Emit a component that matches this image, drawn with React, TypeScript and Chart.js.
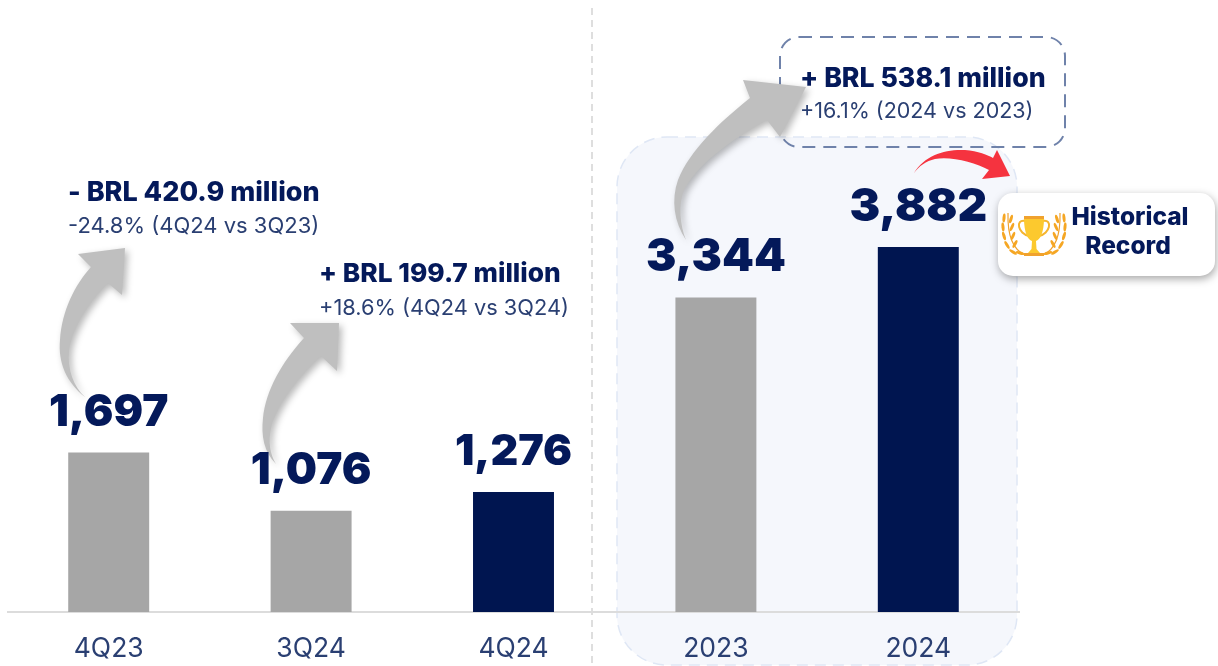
import React, { useEffect, useRef } from "react";
import { Chart, registerables } from "chart.js";

Chart.register(...registerables);

const categories = ["4Q23", "3Q24", "4Q24", "2023", "2024"];
const revenueValues = [1697, 1076, 1276, 3344, 3882];
const valueLabels = ["1,697", "1,076", "1,276", "3,344", "3,882"];
const barColors = ["#a6a6a6", "#a6a6a6", "#001550", "#a6a6a6", "#001550"];
const headlineTexts = ["- BRL 420.9 million", "+ BRL 199.7 million", "+ BRL 538.1 million"];
const detailTexts = ["-24.8% (4Q24 vs 3Q23)", "+18.6% (4Q24 vs 3Q24)", "+16.1% (2024 vs 2023)"];
const badgeLines = ["Historical", "Record"];

const NAVY = "#04195a";
const FONT = "Inter, 'Noto Sans', sans-serif";

function roundRect(ctx: CanvasRenderingContext2D, x: number, y: number, w: number, h: number, r: number) {
  ctx.beginPath();
  ctx.roundRect(x, y, w, h, r);
}

function curvedArrow(ctx: CanvasRenderingContext2D, build: (c: CanvasRenderingContext2D) => void, fill: string, shadow = true) {
  ctx.save();
  if (shadow) {
    ctx.shadowColor = "rgba(0,0,0,0.28)";
    ctx.shadowBlur = 7;
    ctx.shadowOffsetX = 3;
    ctx.shadowOffsetY = 3;
  }
  ctx.fillStyle = fill;
  ctx.beginPath();
  build(ctx);
  ctx.closePath();
  ctx.fill();
  ctx.restore();
}

function trophy(ctx: CanvasRenderingContext2D, cx: number, cy: number) {
  ctx.save();
  ctx.translate(cx, cy);
  // laurels
  for (const side of [-1, 1]) {
    ctx.strokeStyle = "#f0a22e";
    ctx.lineWidth = 1.2;
    ctx.beginPath();
    ctx.moveTo(side * 9, 22);
    ctx.quadraticCurveTo(side * 27, 14, side * 26, -20);
    ctx.stroke();
    ctx.fillStyle = "#f5a623";
    const leaves = [
      [14, 20, 1.3], [21, 19, 1.0], [27, 12, 0.55], [30, 3, 0.3], [31, -6, 0.1], [30, -15, -0.1],
      [19, 11, -0.5], [21, 3, -0.4], [22, -6, -0.4], [23, -14, -0.3],
    ];
    leaves.forEach(([lx, ly, rot]) => {
      ctx.save();
      ctx.translate(side * lx, ly);
      ctx.rotate(side * rot);
      ctx.beginPath();
      ctx.ellipse(0, 0, 1.5, 4.4, 0, 0, Math.PI * 2);
      ctx.fill();
      ctx.restore();
    });
  }
  // handles
  ctx.strokeStyle = "#f5b52e";
  ctx.lineWidth = 2;
  ctx.beginPath();
  ctx.moveTo(-9, -12);
  ctx.bezierCurveTo(-19, -14, -16, 1, -5, 3);
  ctx.moveTo(9, -12);
  ctx.bezierCurveTo(19, -14, 16, 1, 5, 3);
  ctx.stroke();
  // cup
  ctx.fillStyle = "#fcc92e";
  ctx.beginPath();
  ctx.moveTo(-10, -15);
  ctx.lineTo(10, -15);
  ctx.bezierCurveTo(10, 0, 6, 7, 2, 8);
  ctx.lineTo(2.5, 16);
  ctx.lineTo(6, 20);
  ctx.lineTo(-6, 20);
  ctx.lineTo(-2.5, 16);
  ctx.lineTo(-2, 8);
  ctx.bezierCurveTo(-6, 7, -10, 0, -10, -15);
  ctx.fill();
  ctx.fillStyle = "#f0a22e";
  ctx.fillRect(-10, -17, 20, 3);
  ctx.fillRect(-10, 20, 20, 3);
  ctx.restore();
}

const backdrop = {
  id: "backdrop",
  beforeDraw(chart: any) {
    const ctx: CanvasRenderingContext2D = chart.ctx;
    ctx.save();
    ctx.fillStyle = "#ffffff";
    ctx.fillRect(0, 0, chart.width, chart.height);
    // highlighted yearly panel
    roundRect(ctx, 617, 137, 400, 528, 50);
    ctx.fillStyle = "#f5f7fc";
    ctx.fill();
    ctx.setLineDash([11, 7]);
    ctx.lineWidth = 1.5;
    ctx.strokeStyle = "#dfe7f5";
    ctx.stroke();
    // divider
    ctx.setLineDash([7, 5]);
    ctx.lineWidth = 1;
    ctx.strokeStyle = "#bdbdbd";
    ctx.beginPath();
    ctx.moveTo(592, 8);
    ctx.lineTo(592, 666);
    ctx.stroke();
    ctx.restore();
  },
};

const overlay = {
  id: "overlay",
  afterDatasetsDraw(chart: any) {
    const ctx: CanvasRenderingContext2D = chart.ctx;
    const bars = chart.getDatasetMeta(0).data;
    ctx.save();

    // dashed call-out box
    ctx.save();
    roundRect(ctx, 780, 37, 285, 110, 19);
    ctx.setLineDash([13, 8]);
    ctx.lineWidth = 2;
    ctx.strokeStyle = "#6f82aa";
    ctx.stroke();
    ctx.restore();

    // grey arrows
    const grey = "#bfbfbf";
    curvedArrow(ctx, (c) => {
      c.moveTo(85, 397);
      c.bezierCurveTo(66, 382, 58, 362, 60, 340);
      c.bezierCurveTo(62, 310, 75, 285, 91, 267);
      c.lineTo(78, 254);
      c.lineTo(125, 248);
      c.lineTo(122, 295);
      c.lineTo(108, 283);
      c.bezierCurveTo(92, 298, 73, 325, 69, 350);
      c.bezierCurveTo(67, 370, 74, 387, 85, 397);
    }, grey);
    curvedArrow(ctx, (c) => {
      c.moveTo(276, 464);
      c.bezierCurveTo(264, 452, 261, 436, 263, 418);
      c.bezierCurveTo(266, 390, 282, 362, 304, 338);
      c.lineTo(290, 323);
      c.lineTo(339, 323);
      c.lineTo(337, 371);
      c.lineTo(321, 356);
      c.bezierCurveTo(300, 375, 276, 405, 271, 428);
      c.bezierCurveTo(268, 442, 270, 454, 276, 464);
    }, grey);
    curvedArrow(ctx, (c) => {
      c.moveTo(686, 240);
      c.bezierCurveTo(674, 222, 671, 200, 678, 180);
      c.bezierCurveTo(690, 150, 720, 122, 750, 98);
      c.lineTo(743, 80);
      c.lineTo(806, 87);
      c.lineTo(780, 137);
      c.lineTo(767, 120);
      c.bezierCurveTo(740, 135, 700, 160, 684, 190);
      c.bezierCurveTo(678, 205, 680, 225, 686, 240);
    }, grey);

    // red arrow
    curvedArrow(ctx, (c) => {
      c.moveTo(914, 173);
      c.bezierCurveTo(925, 155, 945, 149, 965, 150);
      c.bezierCurveTo(978, 151, 988, 155, 993, 158);
      c.lineTo(997, 150);
      c.lineTo(1010, 176);
      c.lineTo(982, 179);
      c.lineTo(989, 170);
      c.bezierCurveTo(975, 162, 950, 156, 935, 159);
      c.bezierCurveTo(926, 161, 919, 166, 914, 173);
    }, "#f5333f", false);

    // value labels, on top of the arrow tails
    ctx.fillStyle = NAVY;
    ctx.textAlign = "center";
    ctx.textBaseline = "middle";
    const labelSizes = [44, 44, 43, 45.5, 46];
    valueLabels.forEach((label, i) => {
      ctx.font = `900 ${labelSizes[i]}px ${FONT}`;
      ctx.fillText(label, bars[i].x, bars[i].y - 40);
    });

    // call-out texts
    ctx.textAlign = "left";
    ctx.textBaseline = "middle";
    const tx = [68, 319, 800];
    const hy = [193, 274, 79];
    const dy = [226, 308, 112];
    const headSizes = [27, 26.3, 26.7];
    const detailSizes = [22, 21.8, 21.5];
    headlineTexts.forEach((t, i) => {
      ctx.fillStyle = NAVY;
      ctx.font = `800 ${headSizes[i]}px ${FONT}`;
      ctx.fillText(t, tx[i], hy[i]);
      ctx.fillStyle = "#2a3f72";
      ctx.font = `400 ${detailSizes[i]}px ${FONT}`;
      ctx.fillText(detailTexts[i], tx[i], dy[i]);
    });

    // record badge
    ctx.save();
    ctx.shadowColor = "rgba(0,0,0,0.35)";
    ctx.shadowBlur = 9;
    ctx.shadowOffsetX = 1;
    ctx.shadowOffsetY = 3;
    roundRect(ctx, 998, 193, 217, 83, 15);
    ctx.fillStyle = "#ffffff";
    ctx.fill();
    ctx.restore();
    trophy(ctx, 1034, 233);
    ctx.textAlign = "center";
    ctx.fillStyle = NAVY;
    ctx.font = `800 24.5px ${FONT}`;
    ctx.fillText(badgeLines[0], 1130, 218);
    ctx.fillText(badgeLines[1], 1128, 247);
    ctx.restore();
  },
};

export default function App() {
  const ref = useRef<HTMLCanvasElement>(null);
  useEffect(() => {
    if (!ref.current) return;
    const chart = new Chart(ref.current, {
      type: "bar",
      data: {
        labels: categories,
        datasets: [
          {
            data: revenueValues,
            backgroundColor: barColors,
            barPercentage: 0.4,
            categoryPercentage: 1,
            borderWidth: 0,
          },
        ],
      },
      options: {
        responsive: false,
        animation: false,
        devicePixelRatio: 1,
        layout: { padding: { left: 7.5, right: 198.5, top: 8, bottom: 0 } },
        plugins: { legend: { display: false }, tooltip: { enabled: false }, title: { display: false } },
        scales: {
          x: {
            grid: { display: false },
            border: { display: true, color: "#dcdcdc", width: 2 },
            ticks: {
              color: "#2a3f72",
              font: { family: FONT, size: 26.5, weight: 400 },
              padding: 13,
              maxRotation: 0,
            },
            afterFit: (s: any) => {
              s.height = 54;
            },
          },
          y: { display: false, min: 0, max: 6424 },
        },
      },
      plugins: [backdrop, overlay],
    } as any);
    return () => chart.destroy();
  }, []);
  return (
    <canvas
      ref={ref}
      width={1218}
      height={666}
      style={{ position: "fixed", left: 0, top: 0, width: 1218, height: 666, display: "block" }}
    />
  );
}
